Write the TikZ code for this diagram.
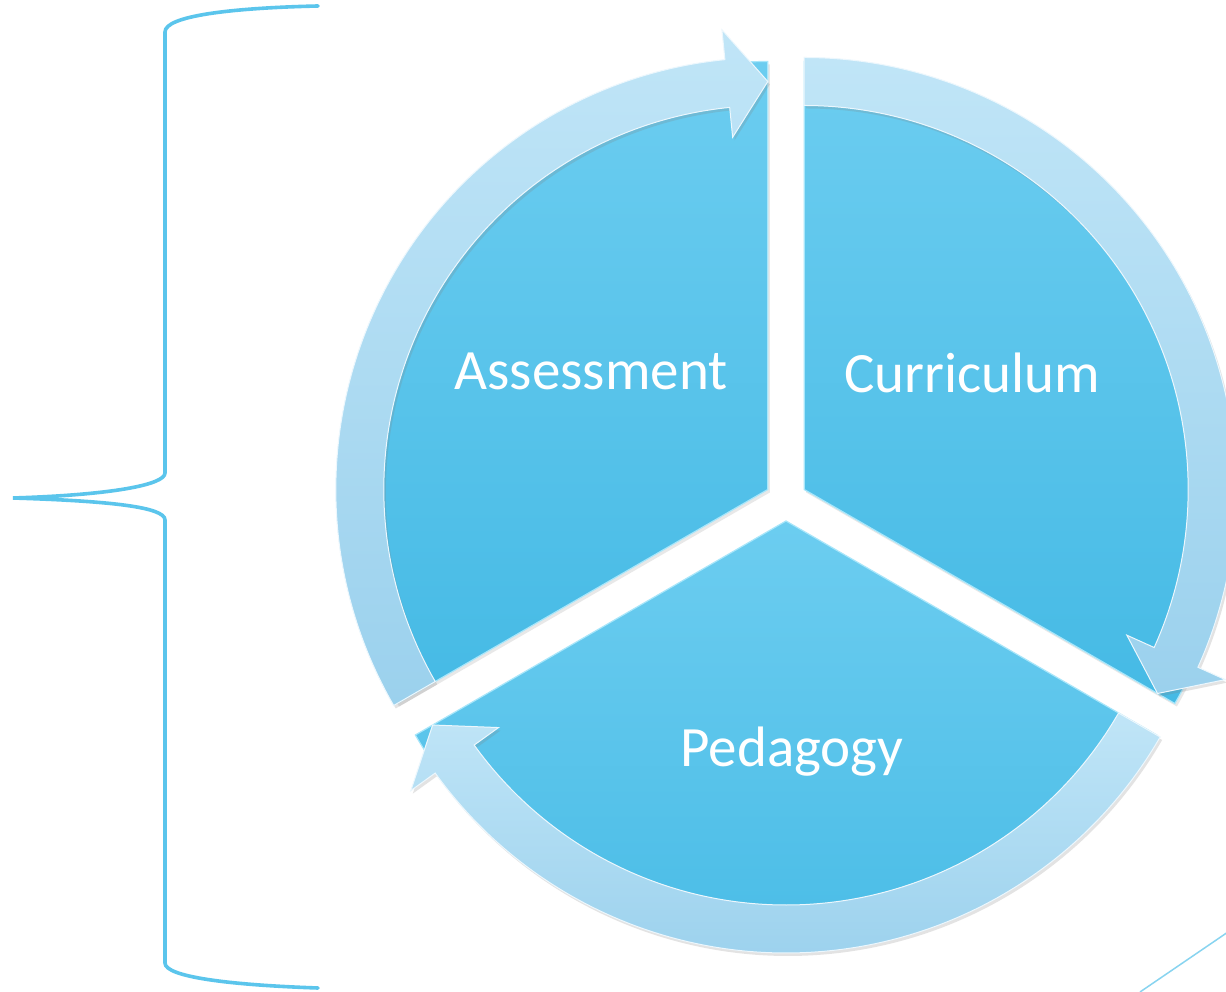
\documentclass[tikz,border=0pt]{standalone}
\usepackage{fontspec}
\setmainfont{Carlito}
\usetikzlibrary{shadows}
\definecolor{pietop}{HTML}{6CCDF0}
\definecolor{piebot}{HTML}{45BAE5}
\definecolor{bandtop}{HTML}{C0E5F7}
\definecolor{bandbot}{HTML}{9BD1ED}
\definecolor{braceblue}{HTML}{5BC5EC}
\definecolor{lineblue}{HTML}{88D4F0}
\definecolor{bevel}{HTML}{A8E6FA}
\tikzset{
  pie/.style={top color=pietop, bottom color=piebot, draw=bevel, line width=1.2pt,
    drop shadow={opacity=0.18, shadow xshift=2pt, shadow yshift=-3pt}},
  band/.style={top color=bandtop, bottom color=bandbot, draw=white!70!bandtop, line width=1pt,
    drop shadow={opacity=0.22, shadow xshift=2pt, shadow yshift=-3pt}},
  label/.style={text=white, font=\fontsize{57}{60}\selectfont, anchor=base, inner sep=0pt},
  bracestyle/.style={draw=braceblue, line width=3.6pt, line cap=round},
  thinline/.style={draw=lineblue, line width=1.5pt}
}
\newcommand\mysector[3]{% #1 apex, #2 low angle (tip), #3 high angle (tail)
  \begin{scope}[shift={#1}]
    \pgfmathsetmacro\baseang{#2+5.7}
    \path[pie] (0,0) -- (#2:428) arc[start angle=#2, end angle=#3, radius=428] -- cycle;
    \path[band] (#3:384) arc[start angle=#3, end angle=\baseang, radius=384]
      -- (\baseang:354) -- (#2:408) -- (\baseang:462) -- (\baseang:432)
      arc[start angle=\baseang, end angle=#3, radius=432] -- cycle;
  \end{scope}}
\begin{document}
\begin{tikzpicture}[x=1pt,y=1pt]
  \useasboundingbox (0,0) rectangle (1226,991);
  \clip (0,0) rectangle (1226,991);
  \fill[white] (0,0) rectangle (1226,991);
  % sectors
  \mysector{(767.8,501.5)}{90}{210}
  \mysector{(804.2,501.5)}{-30}{90}
  \mysector{(786,470)}{210}{330}
  % labels
  \node[label] (assess) at (591,601) {Assessment};
  \node[label] (curr) at (972,598) {Curriculum};
  \node[label] (ped) at (792,224) {Pedagogy};
  % brace
  \coordinate (btop) at (318,985);
  \coordinate (bbot) at (318,3);
  \coordinate (btip) at (13,493);
  \draw[bracestyle] (btop) .. controls (230,983) and (165,975) .. (165,959)
    -- (165,518) .. controls (165,506) and (110,496) .. (btip)
    .. controls (110,490) and (165,484) .. (165,471)
    -- (165,28) .. controls (165,14) and (230,6) .. (bbot);
  % diagonal line
  \coordinate (la) at (1140,-1);
  \coordinate (lb) at (1228,59);
  \draw[thinline] (la) -- (lb);
\end{tikzpicture}
\end{document}
